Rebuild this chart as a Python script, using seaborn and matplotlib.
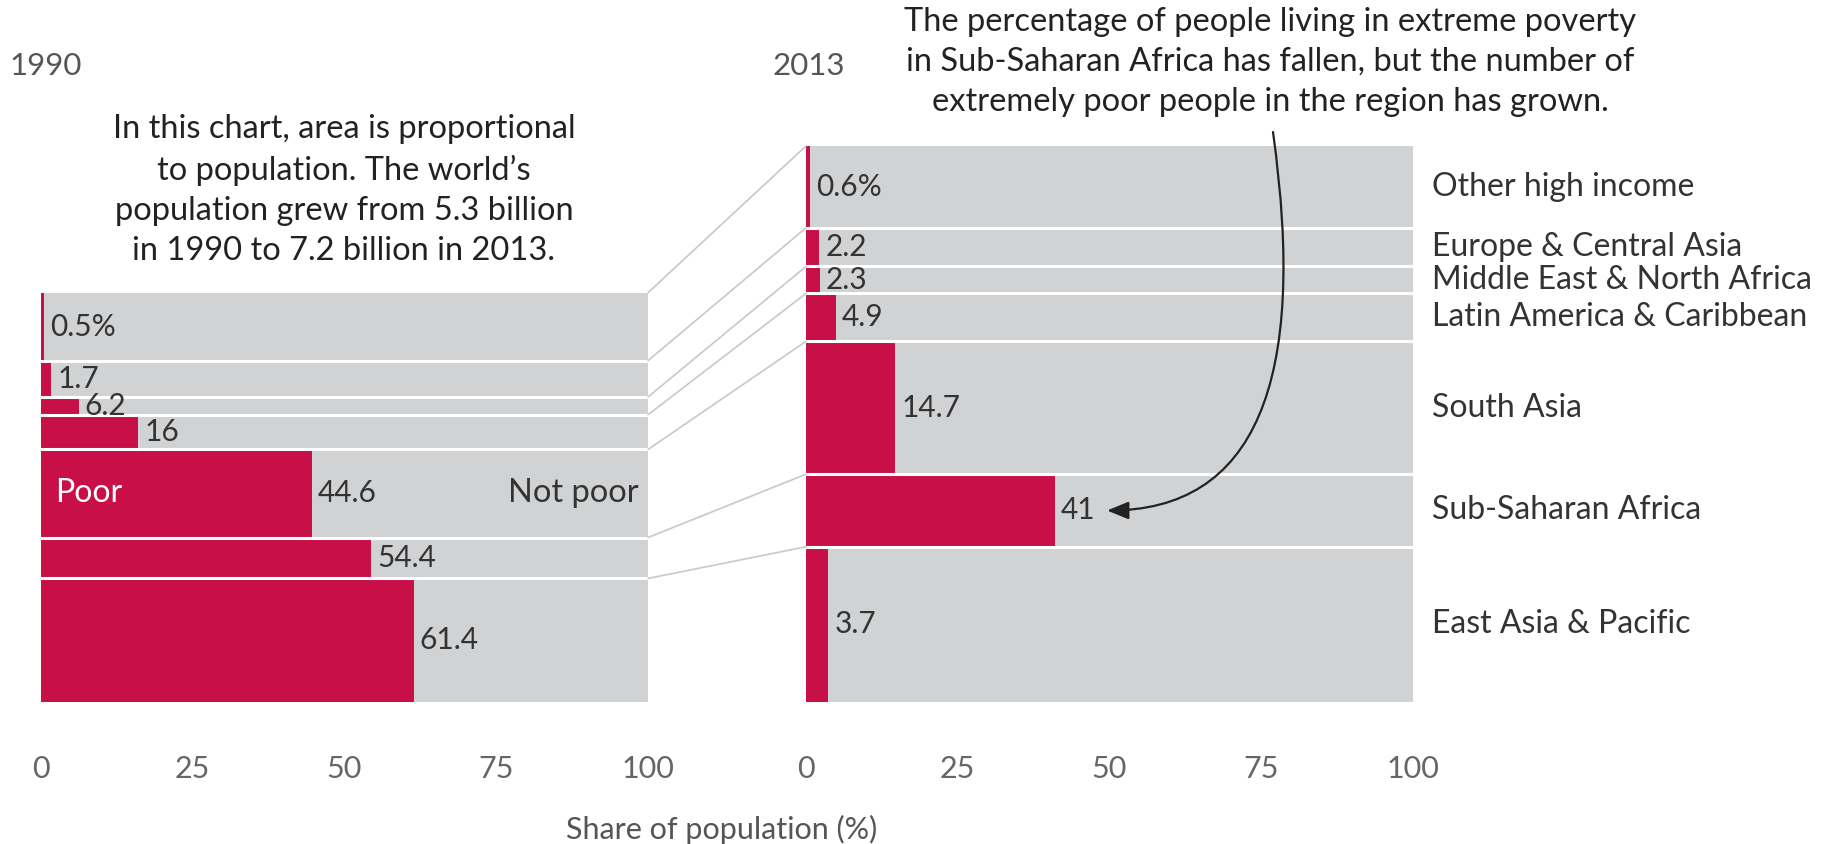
import numpy as np
import matplotlib
matplotlib.use("Agg")
import matplotlib.pyplot as plt
from matplotlib.patches import ConnectionPatch
import seaborn as sns

# regions, listed top to bottom
regions = ["Other high income", "Europe & Central Asia", "Middle East & North Africa",
           "Latin America & Caribbean", "South Asia", "Sub-Saharan Africa", "East Asia & Pacific"]
# population in billions (row heights, area proportional to population)
pop_1990 = [0.88, 0.47, 0.23, 0.45, 1.14, 0.53, 1.60]
pop_2013 = [1.06, 0.50, 0.35, 0.62, 1.72, 0.94, 2.01]
# share of people in extreme poverty (%)
poor_1990 = [0.5, 1.7, 6.2, 16, 44.6, 54.4, 61.4]
poor_2013 = [0.6, 2.2, 2.3, 4.9, 14.7, 41, 3.7]
labels_1990 = ["0.5%", "1.7", "6.2", "16", "44.6", "54.4", "61.4"]
labels_2013 = ["0.6%", "2.2", "2.3", "4.9", "14.7", "41", "3.7"]
x_ticks = [0, 25, 50, 75, 100]

RED = "#c90f48"
GRAY = "#d1d2d4"
TXT = "#333333"

sns.set_theme(style="white")
plt.rcParams["font.family"] = ["Lato", "DejaVu Sans"]

W, H = 1831, 844
fig = plt.figure(figsize=(W / 100, H / 100), dpi=100)
fig.patch.set_facecolor("white")

px_per_bn = 556 / sum(pop_2013)
bottom_px = 142
left1, left2, panel_w = 41, 806, 607


def draw_panel(ax, pops, rates, labels):
    pops = np.array(pops)
    total = pops.sum()
    tops = total - np.concatenate([[0], np.cumsum(pops)[:-1]])
    bottoms = tops - pops
    ax.barh(bottoms, 100, height=pops, align="edge", color=GRAY, linewidth=0)
    ax.barh(bottoms, rates, height=pops, align="edge", color=RED, linewidth=0)
    for b in bottoms[:-1]:
        ax.axhline(b, color="white", lw=2.2)
    for b, p, r, lab in zip(bottoms, pops, rates, labels):
        ax.text(r + 1.0, b + p / 2, lab, ha="left", va="center", fontsize=21.5, color=TXT)
    ax.set_xlim(0, 100)
    ax.set_ylim(0, total)
    ax.set_yticks([])
    ax.set_xticks(x_ticks)
    ax.set_xticklabels([str(t) for t in x_ticks])
    ax.tick_params(axis="x", length=0, pad=38, labelsize=22, labelcolor="#666666")
    for s in ax.spines.values():
        s.set_visible(False)
    ax.grid(False)
    return tops, bottoms


ax1 = fig.add_axes([left1 / W, bottom_px / H, panel_w / W, sum(pop_1990) * px_per_bn / H])
ax2 = fig.add_axes([left2 / W, bottom_px / H, panel_w / W, sum(pop_2013) * px_per_bn / H])

tops1, bots1 = draw_panel(ax1, pop_1990, poor_1990, labels_1990)
tops2, bots2 = draw_panel(ax2, pop_2013, poor_2013, labels_2013)

# connector lines between matching rows
for t1, t2 in zip(tops1, tops2):
    con = ConnectionPatch(xyA=(100, t1), coordsA=ax1.transData,
                          xyB=(0, t2), coordsB=ax2.transData,
                          color="#c8c8c8", lw=1.2)
    fig.add_artist(con)

# region names on the right
for b, p, name in zip(bots2, pop_2013, regions):
    ax2.text(103.2, b + p / 2, name, ha="left", va="center", fontsize=23, color=TXT,
             clip_on=False)

# poor / not poor labels in South Asia row (1990)
sa = regions.index("South Asia")
ax1.text(2.3, bots1[sa] + pop_1990[sa] / 2, "Poor", ha="left", va="center",
         fontsize=23, color="white")
ax1.text(98.5, bots1[sa] + pop_1990[sa] / 2, "Not poor", ha="right", va="center",
         fontsize=23.5, color=TXT)

# years
fig.text(9 / W, 1 - 66 / H, "1990", ha="left", va="center", fontsize=22.5, color="#555555")
fig.text(773 / W, 1 - 66 / H, "2013", ha="left", va="center", fontsize=22.5, color="#555555")

fig.text(344 / W, 1 - 190 / H,
         "In this chart, area is proportional\nto population. The world\u2019s\n"
         "population grew from 5.3 billion\nin 1990 to 7.2 billion in 2013.",
         ha="center", va="center", fontsize=23.5, color="#222222", linespacing=1.42)

fig.text(1270 / W, 1 - 62 / H,
         "The percentage of people living in extreme poverty\n"
         "in Sub-Saharan Africa has fallen, but the number of\n"
         "extremely poor people in the region has grown.",
         ha="center", va="center", fontsize=23.5, color="#222222", linespacing=1.42)

# curved arrow to the Sub-Saharan Africa bar
ssa = regions.index("Sub-Saharan Africa")
ax2.annotate("", xy=(poor_2013[ssa] + 8.6, bots2[ssa] + pop_2013[ssa] / 2), xycoords="data",
             xytext=(1273 / W, 1 - 132 / H), textcoords="figure fraction",
             arrowprops=dict(arrowstyle="-|>,head_length=1.1,head_width=0.45",
                             connectionstyle="angle3,angleA=-82,angleB=0",
                             color="#222222", lw=1.6, shrinkA=0, shrinkB=0),
             annotation_clip=False)

fig.text(722 / W, 1 - 829 / H, "Share of population (%)", ha="center", va="center",
         fontsize=22, color="#555555")

fig.savefig("out.png", dpi=100, facecolor="white")
